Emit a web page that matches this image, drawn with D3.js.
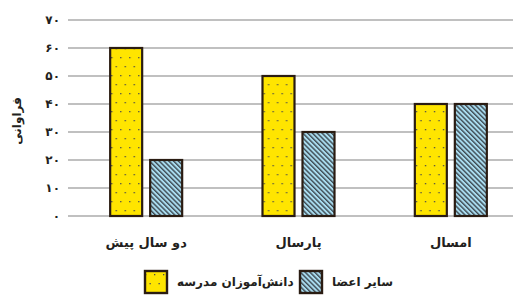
<!DOCTYPE html>
<html>
<head>
<meta charset="utf-8">
<script src="https://cdn.jsdelivr.net/npm/d3@7"></script>
<style>
  body { margin: 0; background: #fff; }
  text { font-family: "DejaVu Sans", sans-serif; }
</style>
</head>
<body>
<div id="chart"></div>
<script>
// Chart data
const categories = ["دو سال پیش", "پارسال", "امسال"];
const seriesNames = ["دانش‌آموزان مدرسه", "سایر اعضا"];
const students = [60, 50, 40]; // yellow, dotted
const others = [20, 30, 40]; // blue, hatched
const yTicks = [0, 10, 20, 30, 40, 50, 60, 70];
const yLabel = "فراوانی";

var width = 525;
var height = 305;
var margin = ({ top: 20, right: 12, bottom: 89, left: 68 });
var lineColor = "#2a1c12";

const toFa = n => String(n).replace(/\d/g, d => "۰۱۲۳۴۵۶۷۸۹"[d]);

var svg = d3.select("#chart").append("svg")
    .attr("width", width)
    .attr("height", height);

// Patterns for the bars
var defs = svg.append("defs");
var dots = defs.append("pattern")
    .attr("id", "dots")
    .attr("patternUnits", "userSpaceOnUse")
    .attr("width", 18).attr("height", 18);
dots.append("rect").attr("width", 18).attr("height", 18).attr("fill", "#ffe500");
[[1, 3], [10, 3], [5.5, 12], [14.5, 12]].forEach(p => {
    dots.append("rect").attr("x", p[0]).attr("y", p[1])
        .attr("width", 1.3).attr("height", 1.3).attr("fill", "#4a4a4a");
});

var hatch = defs.append("pattern")
    .attr("id", "hatch")
    .attr("patternUnits", "userSpaceOnUse")
    .attr("width", 3.4).attr("height", 3.4)
    .attr("patternTransform", "rotate(-45)");
hatch.append("rect").attr("width", 3.4).attr("height", 3.4).attr("fill", "#a9dcef");
hatch.append("rect").attr("width", 1.4).attr("height", 3.4).attr("fill", "#3e4a52");

const fills = ["url(#dots)", "url(#hatch)"];

const x0 = d3.scaleBand()
    .domain(categories)
    .range([margin.left + 2, width + 2])
    .paddingInner(0);
const x1 = d3.scaleBand()
    .domain(seriesNames)
    .range([-36, 36])
    .paddingInner(0.2)
    .paddingOuter(0);
const y = d3.scaleLinear()
    .domain([0, 70])
    .range([height - margin.bottom, margin.top]);

// Grid lines
svg.append("g")
    .selectAll("line")
    .data(yTicks)
    .enter().append("line")
    .attr("x1", margin.left)
    .attr("x2", width - margin.right)
    .attr("y1", d => y(d))
    .attr("y2", d => y(d))
    .attr("stroke", "#c0c0c0")
    .attr("stroke-width", 2);

// Y tick labels
svg.append("g")
    .selectAll("text")
    .data(yTicks)
    .enter().append("text")
    .attr("x", margin.left - 8)
    .attr("y", d => y(d))
    .attr("dy", "0.35em")
    .attr("text-anchor", "end")
    .attr("font-size", 12)
    .attr("font-weight", "bold")
    .attr("fill", "#231f20")
    .text(d => toFa(d));

// Y axis label
svg.append("text")
    .attr("transform", "translate(21," + (y(35) + 3) + ") rotate(-90)")
    .attr("text-anchor", "middle")
    .attr("font-size", 12)
    .attr("font-weight", "bold")
    .attr("fill", "#231f20")
    .text(yLabel);

// Bars
const rows = categories.map((c, i) => ({ cat: c, values: [students[i], others[i]] }));
var groups = svg.append("g")
    .selectAll("g")
    .data(rows)
    .enter().append("g")
    .attr("transform", d => "translate(" + (x0(d.cat) + x0.bandwidth() / 2) + ",0)");
groups.selectAll("rect")
    .data(d => d.values.map((v, j) => ({ name: seriesNames[j], value: v, j: j })))
    .enter().append("rect")
    .attr("x", d => x1(d.name))
    .attr("y", d => y(d.value))
    .attr("width", x1.bandwidth())
    .attr("height", d => y(0) - y(d.value))
    .attr("fill", d => fills[d.j])
    .attr("stroke", lineColor)
    .attr("stroke-width", 2.2);

// Category labels
svg.append("g")
    .selectAll("text")
    .data(categories)
    .enter().append("text")
    .attr("x", d => x0(d) + x0.bandwidth() / 2)
    .attr("y", height - margin.bottom + 31)
    .attr("text-anchor", "middle")
    .attr("font-size", 13)
    .attr("font-weight", "bold")
    .attr("fill", "#231f20")
    .text(d => d);

// Legend
var legend = svg.append("g").attr("transform", "translate(0," + (height - 34) + ")");
const legendX = [145, 300];
seriesNames.forEach((name, j) => {
    legend.append("rect")
        .attr("x", legendX[j])
        .attr("y", 0)
        .attr("width", 22)
        .attr("height", 22)
        .attr("fill", fills[j])
        .attr("stroke", lineColor)
        .attr("stroke-width", 2.4);
    legend.append("text")
        .attr("x", legendX[j] + 32)
        .attr("y", 11)
        .attr("dy", "0.35em")
        .attr("text-anchor", "start")
        .attr("direction", "ltr")
        .attr("font-size", 12)
        .attr("font-weight", "bold")
        .attr("fill", "#231f20")
        .text(name);
});
</script>
</body>
</html>
